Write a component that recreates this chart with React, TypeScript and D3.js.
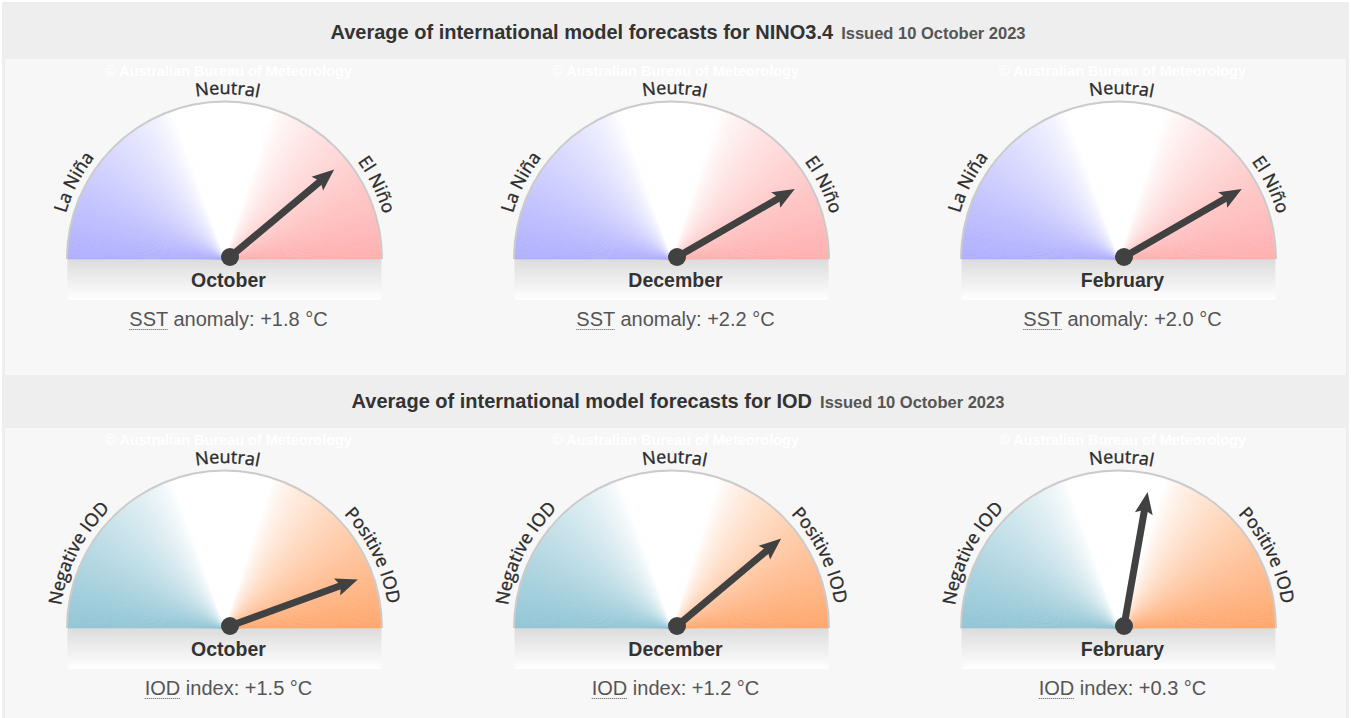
import React, { useEffect, useRef } from 'react';
import * as d3 from 'd3';

const months = ['October', 'December', 'February'];
const ninoValues = [1.8, 2.2, 2.0];
const ninoNeedle = [50, 60, 60]; // needle tilt from Neutral, degrees (+ = warm side)
const iodValues = [1.5, 1.2, 0.3];
const iodNeedle = [70, 50, 10];
const ninoZones = ['La Niña', 'Neutral', 'El Niño'];
const iodZones = ['Negative IOD', 'Neutral', 'Positive IOD'];
const zoneAngles = [153, 89, 26]; // label centre on the dial, degrees from the right
const issued = 'Issued 10 October 2023';

interface Section {
  title: string;
  top: number;
  values: number[];
  needle: number[];
  zones: string[];
  abbr: string;
  rest: string;
  cold: string;
  warm: string;
}

const sections: Section[] = [
  {
    title: 'Average of international model forecasts for NINO3.4',
    top: 59, values: ninoValues, needle: ninoNeedle, zones: ninoZones,
    abbr: 'SST', rest: ' anomaly: ', cold: '#b0b0ff', warm: '#ffb0b0',
  },
  {
    title: 'Average of international model forecasts for IOD',
    top: 428, values: iodValues, needle: iodNeedle, zones: iodZones,
    abbr: 'IOD', rest: ' index: ', cold: '#92c6d6', warm: '#ffa86e',
  },
];

const W = 1351;
const H = 718;
const SANS = '"Liberation Sans", Arial, sans-serif';

const App: React.FC = () => {
  const svgRef = useRef<SVGSVGElement>(null);

  useEffect(() => {
    if (!svgRef.current) return;
    const svg = d3.select(svgRef.current);
    svg.selectAll('*').remove();

    const defs = svg.append('defs');
    const band = defs.append('linearGradient').attr('id', 'band').attr('x1', 0).attr('y1', 0).attr('x2', 0).attr('y2', 1);
    band.append('stop').attr('offset', '0%').attr('stop-color', '#dcdcdc');
    band.append('stop').attr('offset', '100%').attr('stop-color', '#ffffff');

    svg.append('rect').attr('width', W).attr('height', H).attr('fill', '#ffffff');
    svg.append('rect').attr('x', 2).attr('y', 2).attr('width', W - 4).attr('height', H).attr('fill', '#eeeeee');

    const x = d3.scaleBand<string>().domain(months).range([5, 1346]);
    const R = 157;
    const rLabel = 165;
    const tilt = d3.scaleLinear().domain([-90, 90]).range([-Math.PI / 2, Math.PI / 2]);
    const arc = d3.arc<any>();
    const fmt = d3.format('+.1f');

    sections.forEach((s, si) => {
      const y0 = s.top;
      const g = svg.append('g');

      // content box
      g.append('rect')
        .attr('x', 5).attr('y', y0)
        .attr('width', 1341).attr('height', si === 0 ? 316 : H - y0)
        .attr('fill', '#f7f7f7');

      // header
      const t = g.append('text')
        .attr('x', 678).attr('y', y0 - 20)
        .attr('text-anchor', 'middle')
        .style('font-family', SANS).style('font-weight', 'bold');
      t.append('tspan').text(s.title).attr('font-size', 20).attr('fill', '#333');
      t.append('tspan').text(issued).attr('dx', 8).attr('font-size', 16.5).attr('fill', '#555');

      const coldI = d3.interpolateRgb('#ffffff', s.cold);
      const warmI = d3.interpolateRgb('#ffffff', s.warm);

      months.forEach((m, i) => {
        const cx = (x(m) as number) + x.bandwidth() / 2;
        const gx = cx - 4;
        const base = y0 + 200;
        const gg = g.append('g');

        // watermark
        gg.append('text')
          .attr('x', cx).attr('y', y0 + 17)
          .attr('text-anchor', 'middle')
          .style('font-family', SANS).style('font-weight', 'bold')
          .style('font-size', '14.5px')
          .attr('fill', '#ffffff')
          .text('© Australian Bureau of Meteorology');

        // grey base strip
        gg.append('rect')
          .attr('x', gx - R).attr('y', base)
          .attr('width', 2 * R).attr('height', 41)
          .attr('fill', 'url(#band)');

        // dial fill, one degree at a time
        const dial = gg.append('g').attr('transform', `translate(${gx},${base})`);
        d3.range(180).forEach(k => {
          const th = k + 0.5;
          let c = '#ffffff';
          if (th < 72) c = warmI(Math.pow((72 - th) / 72, 0.75));
          else if (th > 110) c = coldI(Math.pow((th - 110) / 70, 0.75));
          const a0 = ((90 - k - 1) * Math.PI) / 180;
          const a1 = ((90 - k) * Math.PI) / 180;
          dial.append('path')
            .attr('d', arc({ innerRadius: 0, outerRadius: R, startAngle: a0, endAngle: a1 }) as string)
            .attr('fill', c).attr('stroke', c).attr('stroke-width', 0.6);
        });
        dial.append('path')
          .attr('d', arc({ innerRadius: R - 0.5, outerRadius: R + 1.5, startAngle: -Math.PI / 2, endAngle: Math.PI / 2 }) as string)
          .attr('fill', '#cbcbcb');

        // curved zone labels
        const pid = `lp-${si}-${i}`;
        defs.append('path')
          .attr('id', pid)
          .attr('d', `M${gx - rLabel},${base} A${rLabel},${rLabel} 0 0 1 ${gx + rLabel},${base}`);
        s.zones.forEach((z, zi) => {
          gg.append('text')
            .style('font-family', '"Open Sans", "DejaVu Sans", sans-serif')
            .style('font-size', '18px')
            .attr('fill', '#2b2b2b')
            .attr('stroke', '#2b2b2b')
            .attr('stroke-width', 0.35)
            .append('textPath')
            .attr('href', `#${pid}`)
            .attr('startOffset', `${((180 - zoneAngles[zi]) / 180) * 100}%`)
            .attr('text-anchor', 'middle')
            .text(z);
        });

        // needle
        const px = cx + 1.5;
        const py = base - 2;
        const a = tilt(s.needle[i]);
        const ux = Math.sin(a);
        const uy = -Math.cos(a);
        const nx = -uy;
        const ny = ux;
        const L = 136;
        const hb = L - 20;
        gg.append('line')
          .attr('x1', px).attr('y1', py)
          .attr('x2', px + ux * (hb + 3)).attr('y2', py + uy * (hb + 3))
          .attr('stroke', '#414141').attr('stroke-width', 7);
        const head: [number, number][] = [
          [px + ux * L, py + uy * L],
          [px + ux * (hb - 2) + nx * 9, py + uy * (hb - 2) + ny * 9],
          [px + ux * (hb + 2), py + uy * (hb + 2)],
          [px + ux * (hb - 2) - nx * 9, py + uy * (hb - 2) - ny * 9],
        ];
        gg.append('path')
          .attr('d', d3.line()(head) + 'Z')
          .attr('fill', '#414141');
        gg.append('circle').attr('cx', px).attr('cy', py).attr('r', 9).attr('fill', '#414141');

        // month
        gg.append('text')
          .attr('x', cx).attr('y', y0 + 227.7)
          .attr('text-anchor', 'middle')
          .style('font-family', SANS).style('font-weight', 'bold').style('font-size', '19.5px')
          .attr('fill', '#333')
          .text(m);

        // value line
        const vt = gg.append('text')
          .attr('x', cx).attr('y', y0 + 267)
          .attr('text-anchor', 'middle')
          .style('font-family', SANS).style('font-size', '20px')
          .attr('fill', '#555');
        const ab = vt.append('tspan').text(s.abbr);
        vt.append('tspan').text(`${s.rest}${fmt(s.values[i])} °C`);
        const total = (vt.node() as SVGTextElement).getComputedTextLength();
        const aw = (ab.node() as SVGTSpanElement).getComputedTextLength();
        const sx = cx - total / 2;
        gg.append('line')
          .attr('x1', sx).attr('x2', sx + aw)
          .attr('y1', y0 + 270.5).attr('y2', y0 + 270.5)
          .attr('stroke', '#555').attr('stroke-width', 1)
          .attr('stroke-dasharray', '1,1');
      });
    });
  }, []);

  return (
    <svg
      ref={svgRef}
      width={W}
      height={H}
      style={{ position: 'absolute', left: 0, top: 0, display: 'block' }}
    />
  );
};

export default App;
